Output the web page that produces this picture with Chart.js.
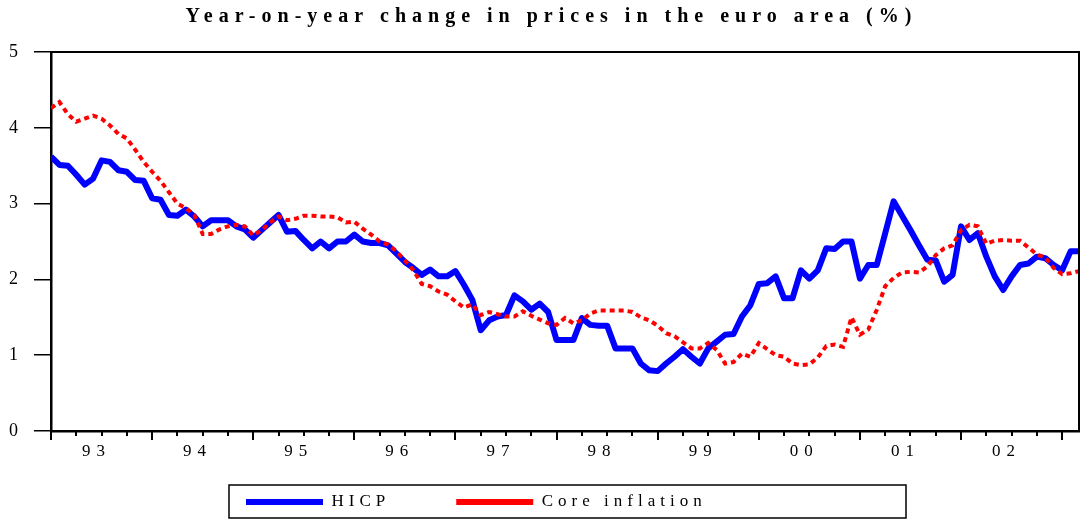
<!DOCTYPE html>
<html>
<head>
<meta charset="utf-8">
<script src="https://cdn.jsdelivr.net/npm/chart.js@4.4.1/dist/chart.umd.min.js"></script>
<style>
  html, body { margin: 0; padding: 0; background: #ffffff; }
  #wrap { width: 1081px; height: 519px; }
</style>
</head>
<body>
<div id="wrap"><canvas id="c" width="1081" height="519"></canvas></div>
<script>
// ---- data (monthly, first point = Jan 1993) ----
const chartTitle = 'Year-on-year change in prices in the euro area (%)';
const seriesNames = ['HICP', 'Core inflation'];
const yearLabels = ['93', '94', '95', '96', '97', '98', '99', '00', '01', '02'];
const yTickValues = [0, 1, 2, 3, 4, 5];

const hicp = [
  3.62, 3.51, 3.50, 3.38, 3.25, 3.33, 3.57, 3.55, 3.44, 3.42, 3.31, 3.30,
  3.07, 3.05, 2.85, 2.84, 2.92, 2.83, 2.70, 2.78, 2.78, 2.78, 2.70, 2.66,
  2.55, 2.65, 2.75, 2.85, 2.63, 2.64, 2.52, 2.41, 2.50, 2.41, 2.50, 2.50,
  2.59, 2.50, 2.48, 2.48, 2.45, 2.34, 2.23, 2.15, 2.06, 2.13, 2.04, 2.04,
  2.11, 1.93, 1.73, 1.33, 1.46, 1.51, 1.53, 1.79, 1.71, 1.60, 1.68, 1.57,
  1.20, 1.20, 1.20, 1.49, 1.40, 1.39, 1.39, 1.09, 1.09, 1.09, 0.89, 0.80,
  0.79, 0.89, 0.98, 1.08, 0.98, 0.89, 1.09, 1.18, 1.27, 1.28, 1.51, 1.66,
  1.94, 1.95, 2.04, 1.75, 1.75, 2.12, 2.01, 2.12, 2.41, 2.40, 2.50, 2.50,
  2.01, 2.19, 2.19, 2.61, 3.03, 2.84, 2.65, 2.45, 2.26, 2.25, 1.97, 2.06,
  2.70, 2.52, 2.61, 2.30, 2.04, 1.86, 2.04, 2.19, 2.21, 2.30, 2.28, 2.19,
  2.12, 2.37, 2.37
];

const core = [
  4.26, 4.34, 4.18, 4.08, 4.12, 4.16, 4.12, 4.03, 3.92, 3.86, 3.71, 3.55,
  3.42, 3.30, 3.15, 3.00, 2.94, 2.85, 2.60, 2.60, 2.66, 2.70, 2.72, 2.70,
  2.58, 2.65, 2.75, 2.83, 2.78, 2.80, 2.84, 2.84, 2.83, 2.83, 2.82, 2.75,
  2.76, 2.67, 2.59, 2.50, 2.46, 2.37, 2.25, 2.12, 1.94, 1.91, 1.84, 1.80,
  1.71, 1.63, 1.67, 1.53, 1.57, 1.54, 1.51, 1.51, 1.58, 1.52, 1.47, 1.42,
  1.40, 1.49, 1.42, 1.46, 1.55, 1.59, 1.59, 1.59, 1.59, 1.57, 1.50, 1.46,
  1.39, 1.29, 1.25, 1.17, 1.09, 1.09, 1.16, 1.07, 0.89, 0.91, 1.02, 0.98,
  1.16, 1.08, 1.00, 0.98, 0.89, 0.87, 0.88, 0.97, 1.12, 1.14, 1.11, 1.50,
  1.27, 1.34, 1.60, 1.91, 2.02, 2.09, 2.10, 2.09, 2.17, 2.32, 2.41, 2.45,
  2.65, 2.72, 2.70, 2.47, 2.51, 2.52, 2.51, 2.51, 2.42, 2.33, 2.29, 2.15,
  2.07, 2.08, 2.11
];

// ---- layout / style settings ----
const MONTHS_PER_YEAR = 12;
const LABEL_MONTH = 5.4;          // where each year label sits inside its year
const X_MAX = hicp.length - 1;
const SERIF = "'Liberation Serif', 'Times New Roman', serif";

const toPoints = arr => arr.map((v, i) => ({ x: i, y: v }));

// letter spacing for canvas text (the original is widely tracked)
const spacingPlugin = {
  id: 'spacing',
  beforeLayout(chart, args, opts) { chart.ctx.letterSpacing = opts.value; },
  beforeDraw(chart, args, opts) { chart.ctx.letterSpacing = opts.value; },
  afterDraw(chart) { chart.ctx.letterSpacing = '0px'; }
};

function wrapDraw(box, spacing, dx) {
  if (!box || box._wrapped) return;
  const orig = box.draw;
  box.draw = function (area) {
    const c = this.ctx;
    const old = c.letterSpacing;
    c.save();
    c.letterSpacing = spacing;
    c.translate(dx, 0);
    orig.call(this, area);
    c.restore();
    c.letterSpacing = old;
  };
  box._wrapped = true;
}

// place legend items inside their frame; per-box letter spacing
const legendPlace = {
  id: 'legendPlace',
  afterLayout(chart, args, opts) {
    const lg = chart.legend;
    const lab = chart.options.plugins.legend.labels;
    const pad = lab.padding;
    const fs = lab.font.size;
    lg.left = opts.itemsLeft - pad;
    lg.top = opts.textMid - pad - fs / 2;
    wrapDraw(lg, opts.legendSpacing, 0);
    wrapDraw(chart.titleBlock, opts.titleSpacing, opts.titleShift);
  }
};

// frame of plot, quarterly x tick marks, legend frame
const decorations = {
  id: 'decorations',
  afterDraw(chart, args, opts) {
    const { ctx, chartArea: a } = chart;
    const xs = chart.scales.x;
    ctx.save();
    ctx.strokeStyle = '#000';
    ctx.lineWidth = opts.frameWidth;
    ctx.beginPath();
    ctx.moveTo(a.left, a.top);
    ctx.lineTo(a.right, a.top);
    ctx.lineTo(a.right, a.bottom);
    ctx.stroke();
    ctx.lineWidth = 2;
    for (let m = 0; m <= X_MAX; m += 3) {
      const px = Math.round(xs.getPixelForValue(m));
      const len = (m % MONTHS_PER_YEAR === 0) ? opts.majorTick : opts.minorTick;
      ctx.beginPath();
      ctx.moveTo(px, a.bottom);
      ctx.lineTo(px, a.bottom + len);
      ctx.stroke();
    }
    const f = opts.legendFrame;
    ctx.lineWidth = 1.5;
    ctx.strokeRect(f.left, f.top, f.right - f.left, f.bottom - f.top);
    ctx.restore();
  }
};

const ctx = document.getElementById('c').getContext('2d');
new Chart(ctx, {
  type: 'line',
  data: {
    datasets: [
      {
        label: seriesNames[0],
        data: toPoints(hicp),
        borderColor: '#0000ff',
        backgroundColor: '#0000ff',
        borderWidth: 6,
        borderJoinStyle: 'round',
        pointRadius: 0,
        tension: 0,
        order: 2
      },
      {
        label: seriesNames[1],
        data: toPoints(core),
        borderColor: '#ff0000',
        backgroundColor: '#ff0000',
        borderWidth: 4,
        borderDash: [5, 4],
        pointRadius: 0,
        tension: 0,
        order: 1
      }
    ]
  },
  options: {
    responsive: false,
    animation: false,
    devicePixelRatio: 1,
    layout: { padding: { left: 0, right: 2, top: 0, bottom: 0 } },
    scales: {
      x: {
        type: 'linear',
        min: 0,
        max: X_MAX,
        afterFit(scale) { scale.height = 61; },
        afterBuildTicks(scale) {
          scale.ticks = yearLabels.map((_, i) => ({ value: i * MONTHS_PER_YEAR + LABEL_MONTH }));
        },
        ticks: {
          autoSkip: false,
          maxRotation: 0,
          padding: 10,
          color: '#000',
          font: { family: SERIF, size: 17 },
          callback: (v, i) => yearLabels[i]
        },
        grid: { display: false, drawTicks: false },
        border: { display: true, color: '#000', width: 2.5 }
      },
      y: {
        min: 0,
        max: 5,
        afterFit(scale) { scale.width = 51; },
        afterBuildTicks(scale) {
          scale.ticks = yTickValues.map(v => ({ value: v }));
        },
        ticks: {
          padding: 10,
          color: '#000',
          font: { family: SERIF, size: 18 },
          callback: v => String(v)
        },
        grid: {
          display: true,
          drawOnChartArea: false,
          drawTicks: true,
          tickLength: 17,
          color: '#000',
          lineWidth: 1.5
        },
        border: { display: true, color: '#000', width: 2.5 }
      }
    },
    plugins: {
      title: {
        display: true,
        text: chartTitle,
        color: '#000',
        font: { family: SERIF, size: 20, weight: 'bold' },
        padding: { top: 5, bottom: 23 }
      },
      legend: {
        display: true,
        position: 'bottom',
        align: 'start',
        maxHeight: 27,
        labels: {
          boxWidth: 77,
          boxHeight: 6,
          padding: 66,
          color: '#000',
          font: { family: SERIF, size: 17 },
          generateLabels: chart => chart.data.datasets.map((ds, i) => ({
            text: ds.label,
            fillStyle: ds.borderColor,
            strokeStyle: ds.borderColor,
            lineWidth: 0,
            lineDash: [],
            hidden: false,
            datasetIndex: i,
            fontColor: '#000'
          }))
        }
      },
      tooltip: { enabled: false },
      spacing: { value: '6px' },
      legendPlace: { itemsLeft: 246, textMid: 502, legendSpacing: '5px', titleSpacing: '6px', titleShift: 12 },
      decorations: {
        frameWidth: 2,
        majorTick: 9,
        minorTick: 5,
        legendFrame: { left: 229, right: 906, top: 485, bottom: 518 }
      }
    }
  },
  plugins: [spacingPlugin, legendPlace, decorations]
});
</script>
</body>
</html>
